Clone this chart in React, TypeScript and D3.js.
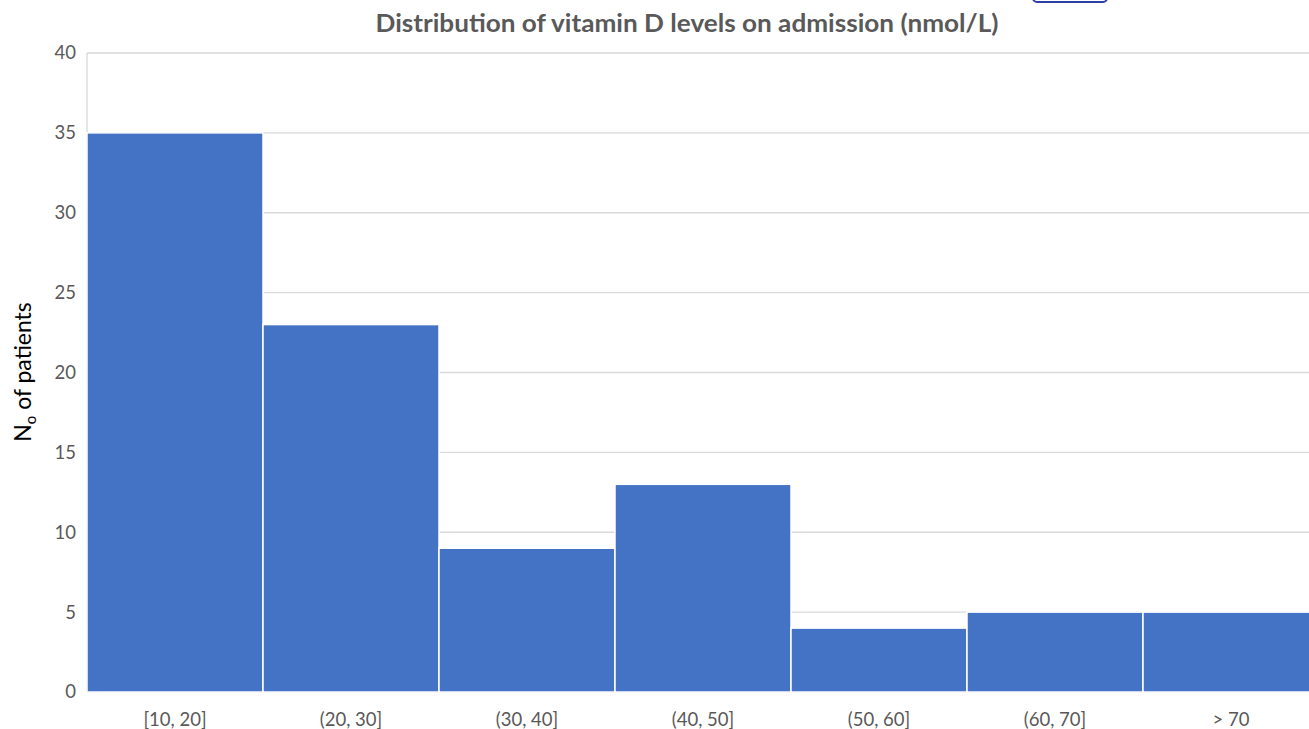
import React from 'react';
import * as d3 from 'd3';

const categories = ['[10, 20]', '(20, 30]', '(30, 40]', '(40, 50]', '(50, 60]', '(60, 70]', '> 70'];
const patients = [35, 23, 9, 13, 4, 5, 5];
const yTicks = [0, 5, 10, 15, 20, 25, 30, 35, 40];

const width = 1309;
const height = 729;
const left = 87;
const right = 1319; // last bar runs past the edge of the picture
const top = 53;
const bottom = 692;

const App = () => {
  const x = d3.scaleBand<string>().domain(categories).range([left, right]).paddingInner(0);
  const y = d3.scaleLinear().domain([0, 40]).range([bottom, top]);
  const font = 'Lato, "Open Sans", sans-serif';

  return (
    <svg
      width={width}
      height={height}
      style={{ position: 'absolute', left: 0, top: 0, background: '#fff' }}
      fontFamily={font}
    >
      <rect x={0} y={0} width={width} height={height} fill="#fff" />

      {/* little blue tab at top edge */}
      <rect x={1033} y={-8} width={74} height={10} rx={4} fill="none" stroke="#2f3fa8" strokeWidth={2} />

      <text x={687} y={32} textAnchor="middle" fontSize={25.5} fontWeight="bold" fill="#595959"
        textLength={623} lengthAdjust="spacingAndGlyphs">
        Distribution of vitamin D levels on admission (nmol/L)
      </text>

      {/* grid */}
      {yTicks.map(t => (
        <line key={t} x1={left} x2={width} y1={y(t)} y2={y(t)} stroke="#d9d9d9" strokeWidth={1.3} />
      ))}
      <line x1={left} x2={left} y1={top} y2={bottom} stroke="#d9d9d9" strokeWidth={1.3} />

      {/* bars */}
      {categories.map((c, i) => (
        <rect
          key={c}
          x={x(c)}
          y={y(patients[i])}
          width={x.bandwidth()}
          height={y(0) - y(patients[i])}
          fill="#4472c4"
          stroke="#fff"
          strokeWidth={1.5}
        />
      ))}

      {/* y tick labels */}
      {yTicks.map(t => (
        <text key={t} x={76} y={y(t)} dy="0.35em" textAnchor="end" fontSize={18.5} fill="#595959">
          {t}
        </text>
      ))}

      {/* x labels */}
      {categories.map(c => (
        <text key={c} x={(x(c) as number) + x.bandwidth() / 2} y={726} textAnchor="middle" fontSize={18.5} fill="#595959">
          {c}
        </text>
      ))}

      {/* y axis title */}
      <text transform="translate(31,372) rotate(-90)" textAnchor="middle" fontSize={23} fill="#000">
        N<tspan fontSize={15} dy={5}>o</tspan>
        <tspan dy={-5}> of patients</tspan>
      </text>
    </svg>
  );
};

export default App;
